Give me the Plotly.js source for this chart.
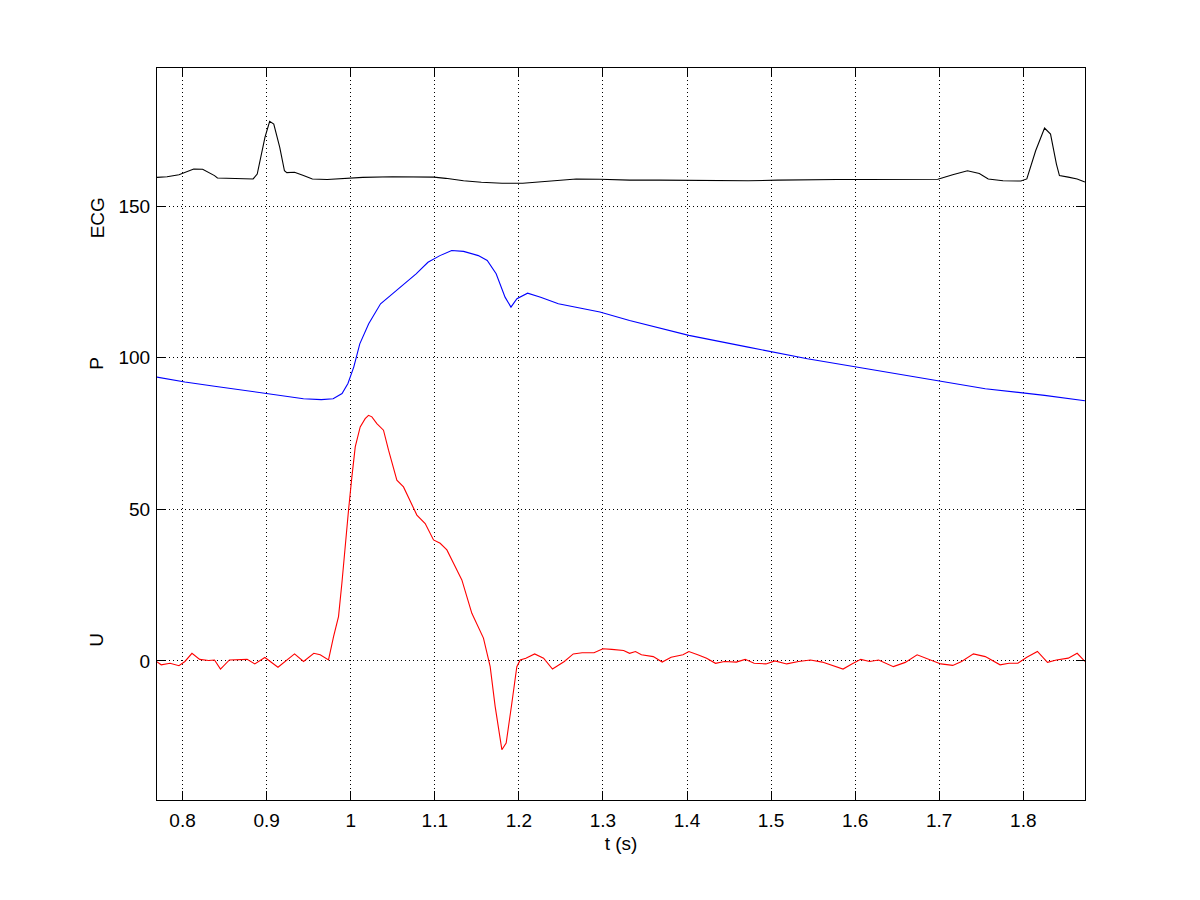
<!DOCTYPE html>
<html>
<head>
<meta charset="utf-8">
<script src="https://cdn.plot.ly/plotly-3.0.1.min.js"></script>
<style>
html,body{margin:0;padding:0;background:#fff;}
#chart{width:1200px;height:900px;}
</style>
</head>
<body>
<div id="chart"></div>
<script>
// ECG trace
var ecgT = [0.7675,0.7816,0.7957,0.8133,0.8239,0.838,0.8415,0.8592,0.8839,0.8888,0.898,0.9036,0.9085,0.9156,0.9212,0.924,0.9332,0.9438,0.9544,0.972,0.9932,1.0143,1.0496,1.0778,1.0989,1.113,1.1342,1.1554,1.18,1.2047,1.2259,1.247,1.2682,1.2964,1.3317,1.367,1.4022,1.4375,1.4727,1.508,1.5432,1.5785,1.6138,1.649,1.6843,1.6984,1.716,1.7336,1.7477,1.7583,1.7759,1.7971,1.8042,1.8147,1.8253,1.8324,1.8394,1.843,1.8535,1.8641,1.8733];
var ecgV = [159.5,159.7,160.4,162.3,162.2,160.1,159.3,159.2,159.0,160.6,172.7,178.0,177.1,169.4,161.7,161.1,161.2,160.1,159.0,158.8,159.2,159.5,159.7,159.7,159.6,159.2,158.4,157.9,157.6,157.6,158.0,158.6,159.0,158.9,158.6,158.6,158.5,158.4,158.4,158.6,158.8,158.8,158.8,158.8,158.9,158.9,160.4,161.7,160.8,159.0,158.4,158.3,159.0,168.3,175.8,173.8,163.9,160.1,159.6,159.0,158.0];

// Pressure trace
var pT = [0.7675,0.8028,0.838,0.8733,0.9085,0.9438,0.965,0.9791,0.9897,0.9967,1.0037,1.0108,1.0214,1.0355,1.0496,1.0637,1.0778,1.0919,1.1061,1.1201,1.1342,1.1518,1.1624,1.173,1.1836,1.1906,1.1977,1.2104,1.2259,1.247,1.2964,1.3317,1.4022,1.4727,1.5432,1.6138,1.6843,1.7548,1.8253,1.8733];
var pV = [93.7,92.0,90.6,89.3,87.9,86.5,86.2,86.5,88.2,91.5,97.0,104.6,111.2,117.8,121.1,124.4,127.7,131.5,133.7,135.4,135.1,133.7,132.1,127.7,120.0,116.7,119.5,121.3,120.0,117.8,115.1,112.3,107.4,103.5,99.7,96.4,93.1,89.8,87.6,85.8];

// Flow velocity trace
var uT = [0.7675,0.7746,0.7851,0.7957,0.8028,0.8112,0.8204,0.831,0.838,0.8451,0.8557,0.8662,0.8768,0.8859,0.8979,0.9135,0.9332,0.9439,0.9561,0.9637,0.9736,0.9796,0.9855,0.9895,0.9935,0.9974,1.0014,1.0054,1.0113,1.0172,1.0212,1.0252,1.0311,1.039,1.045,1.0549,1.0628,1.0707,1.0787,1.0886,1.0985,1.1064,1.1144,1.1223,1.1322,1.1441,1.1579,1.1659,1.1718,1.1798,1.1849,1.1917,1.1976,1.2016,1.2083,1.2188,1.2294,1.24,1.2541,1.2647,1.2753,1.2894,1.3,1.3105,1.3246,1.3317,1.3387,1.3458,1.3599,1.3705,1.3811,1.3952,1.4022,1.4128,1.4233,1.4339,1.4445,1.4586,1.4692,1.4798,1.4939,1.5045,1.5186,1.5327,1.5468,1.5609,1.5714,1.5856,1.5961,1.6067,1.6173,1.6279,1.6455,1.6596,1.6737,1.6878,1.7019,1.7161,1.7266,1.7407,1.7548,1.7724,1.783,1.7936,1.8042,1.8168,1.8288,1.8394,1.8535,1.8641,1.8733];
var uV = [0.1,-1.3,-0.8,-1.6,-0.2,2.5,0.5,0.1,0.3,-2.7,0.3,0.5,0.5,-1.0,1.1,-2.1,2.3,-0.2,2.5,2.0,0.3,8.0,14.6,25.6,38.8,49.7,60.7,70.6,77.2,79.9,81.0,80.5,78.3,76.1,69.5,59.6,57.4,53.0,48.1,45.3,39.9,38.8,36.6,32.2,26.7,15.7,7.5,-1.9,-15.0,-29.3,-27.1,-13.9,-1.9,0.3,0.9,2.3,0.9,-2.7,-0.2,2.3,2.7,2.7,4.0,3.8,3.4,2.5,3.1,2.0,1.4,-0.4,1.2,2.0,3.1,2.0,0.9,-0.8,-0.2,-0.4,0.5,-0.8,-1.0,0.0,-1.0,-0.2,0.3,-0.4,-1.3,-2.7,-1.0,0.5,-0.2,0.3,-1.9,-0.5,2.0,0.5,-1.0,-1.5,-0.2,2.3,1.4,-1.3,-0.8,-0.8,1.2,3.1,-0.5,0.3,0.9,2.5,-0.2];

var xTickVals = [0.8,0.9,1,1.1,1.2,1.3,1.4,1.5,1.6,1.7,1.8];
var xTickText = ['0.8','0.9','1','1.1','1.2','1.3','1.4','1.5','1.6','1.7','1.8'];
var yTickVals = [0,50,100,150];
var yTickText = ['0','50','100','150'];
var channelNames = ['ECG','P','U'];
var channelLabelY = [146,98,7];
var xLabel = 't (s)';

var FONT = 'Liberation Sans, Arial, Helvetica, sans-serif';
var FS = 19;

var traces = [
  {x: ecgT, y: ecgV, type: 'scatter', mode: 'lines', line: {color: '#000000', width: 1.1}, name: 'ECG'},
  {x: pT, y: pV, type: 'scatter', mode: 'lines', line: {color: '#0000ff', width: 1.1}, name: 'P'},
  {x: uT, y: uV, type: 'scatter', mode: 'lines', line: {color: '#ff0000', width: 1.1}, name: 'U'}
];

var annotations = channelNames.map(function(n, i){
  return {
    text: n, xref: 'paper', yref: 'y', x: 0, y: channelLabelY[i],
    xanchor: 'center', yanchor: 'middle', xshift: -60,
    textangle: -90, showarrow: false,
    font: {family: FONT, size: FS, color: '#000'}
  };
});

var axisCommon = {
  showline: true, linecolor: '#000', linewidth: 1, mirror: 'ticks',
  ticks: 'inside', ticklen: 9, tickcolor: '#000', tickwidth: 1,
  showgrid: true, gridcolor: '#000', gridwidth: 1, griddash: '1px,3px',
  zeroline: false, tickfont: {family: FONT, size: FS, color: '#000'}
};

var layout = {
  width: 1200, height: 900,
  margin: {l: 157, r: 115, t: 68, b: 100},
  paper_bgcolor: '#fff', plot_bgcolor: '#fff',
  showlegend: false,
  xaxis: Object.assign({}, axisCommon, {
    range: [0.7696, 1.8734], tickmode: 'array', tickvals: xTickVals, ticktext: xTickText,
    ticklabelstandoff: 3,
    title: {text: xLabel, font: {family: FONT, size: FS, color: '#000'}, standoff: 6}
  }),
  yaxis: Object.assign({}, axisCommon, {
    range: [-45.9, 195.6], tickmode: 'array', tickvals: yTickVals, ticktext: yTickText,
    ticklabelstandoff: 2
  }),
  annotations: annotations
};

Plotly.newPlot('chart', traces, layout, {displayModeBar: false, staticPlot: true});
</script>
</body>
</html>
